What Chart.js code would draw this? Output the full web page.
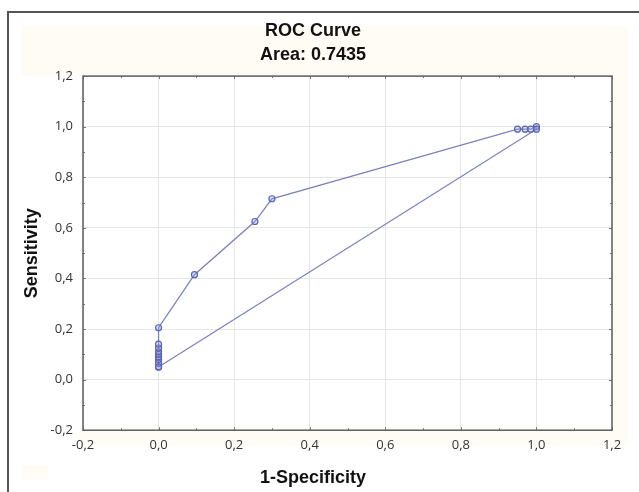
<!DOCTYPE html>
<html>
<head>
<meta charset="utf-8">
<script src="https://cdn.jsdelivr.net/npm/chart.js@4"></script>
<style>
  html, body { margin: 0; padding: 0; background: #fff; }
  #roc { display: block; }
</style>
</head>
<body>
<canvas id="roc" width="639" height="492"></canvas>
<script>
// ROC points (1-specificity, sensitivity), last one closes the polygon
const fpr = [0, 0, 0, 0, 0, 0, 0, 0, 0, 0.095, 0.255, 0.3, 0.95, 0.97, 0.985, 1, 1, 0];
const tpr = [0.05, 0.065, 0.08, 0.09, 0.10, 0.11, 0.125, 0.14, 0.205, 0.415, 0.625, 0.715, 0.99, 0.99, 0.99, 1.0, 0.99, 0.05];
const titleLines = ["ROC Curve", "Area: 0.7435"];
const xLabel = "1-Specificity";
const yLabel = "Sensitivity";

const narrow = '"Liberation Sans Narrow", "Liberation Sans", Arial, sans-serif';
const fmt = v => (Math.round(v * 10) / 10).toFixed(1).replace(".", ",");

// frame, cream panel, plot border and little inside ticks
const decor = {
  id: "decor",
  beforeDraw(chart) {
    const c = chart.ctx, a = chart.chartArea;
    c.save();
    c.fillStyle = "#fffcf6";
    c.fillRect(22, 26, 606, a.top - 26);
    c.fillRect(a.right, a.top, 628 - a.right, a.bottom - a.top + 15);
    c.fillRect(a.left - 5, a.bottom, a.right - a.left + 5, 15);
    c.fillRect(22, 465, 26, 13);
    c.fillStyle = "#fff";
    c.fillRect(a.left, a.top, a.right - a.left, a.bottom - a.top);
    c.strokeStyle = "#555";
    c.lineWidth = 2;
    c.beginPath();
    c.moveTo(8, 492);
    c.lineTo(8, 12);
    c.lineTo(639, 12);
    c.stroke();
    c.restore();
  },
  afterDatasetsDraw(chart) {
    const c = chart.ctx, a = chart.chartArea;
    const xs = chart.scales.x, ys = chart.scales.y;
    c.save();
    c.strokeStyle = "#777";
    c.lineWidth = 1;
    for (let i = -2; i <= 12; i++) {
      const v = i / 10;
      const len = i % 2 === 0 ? 3 : 2;
      const px = Math.round(xs.getPixelForValue(v)) + 0.5;
      const py = Math.round(ys.getPixelForValue(v)) + 0.5;
      c.beginPath();
      c.moveTo(px, a.bottom); c.lineTo(px, a.bottom - len);
      c.moveTo(px, a.top); c.lineTo(px, a.top + len);
      c.moveTo(a.left, py); c.lineTo(a.left + len, py);
      c.moveTo(a.right, py); c.lineTo(a.right - len, py);
      c.stroke();
    }
    c.strokeStyle = "#5e5e5e";
    c.lineWidth = 1.5;
    c.strokeRect(a.left, a.top, a.right - a.left, a.bottom - a.top);
    c.restore();
  }
};

new Chart(document.getElementById("roc"), {
  type: "scatter",
  data: {
    datasets: [{
      data: fpr.map((x, i) => ({ x: x, y: tpr[i] })),
      showLine: true,
      borderColor: "#7c82c0",
      borderWidth: 1.3,
      pointRadius: 3,
      pointBorderWidth: 1.2,
      pointBorderColor: "#5a64b5",
      pointBackgroundColor: "rgba(150,160,225,0.35)",
      tension: 0
    }]
  },
  options: {
    responsive: false,
    animation: false,
    layout: { padding: { left: 14, right: 27, top: 0, bottom: 0 } },
    plugins: {
      legend: { display: false },
      tooltip: { enabled: false },
      title: {
        display: true,
        text: titleLines,
        color: "#111",
        font: { family: narrow, size: 18, weight: "bold", lineHeight: 1.28 },
        padding: { top: 20, bottom: 10 }
      },
      subtitle: {
        display: true,
        position: "bottom",
        text: xLabel,
        color: "#111",
        font: { family: narrow, size: 18, weight: "bold", lineHeight: 1.1 },
        padding: { top: 6, bottom: 4 }
      }
    },
    scales: {
      x: {
        type: "linear",
        min: -0.2, max: 1.2,
        afterFit(scale) { scale.height = 32; },
        ticks: {
          stepSize: 0.2,
          padding: 7,
          color: "#333",
          font: { family: '"Open Sans", sans-serif', size: 13 },
          callback: v => fmt(v)
        },
        grid: { color: "#e6e6e6", drawTicks: false },
        border: { display: false }
      },
      y: {
        type: "linear",
        min: -0.2, max: 1.2,
        afterFit(scale) { scale.width = 69; },
        title: {
          display: true,
          text: yLabel,
          color: "#111",
          font: { family: narrow, size: 18, weight: "bold" },
          padding: { top: 7, bottom: 0 }
        },
        ticks: {
          stepSize: 0.2,
          padding: 10,
          color: "#333",
          font: { family: '"Open Sans", sans-serif', size: 13 },
          callback: v => fmt(v)
        },
        grid: { color: "#e6e6e6", drawTicks: false },
        border: { display: false }
      }
    }
  },
  plugins: [decor]
});
</script>
</body>
</html>
